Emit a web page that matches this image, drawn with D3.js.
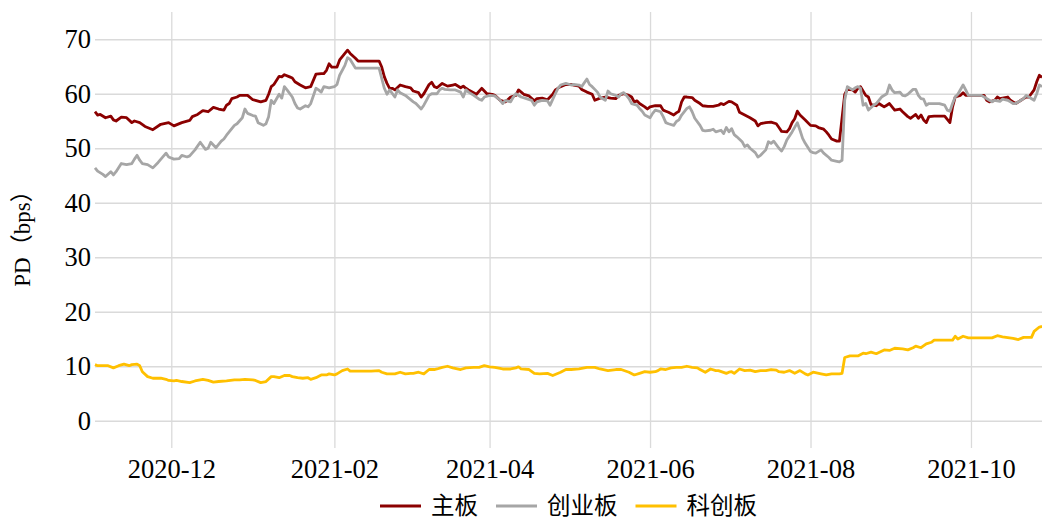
<!DOCTYPE html>
<html>
  <head>
    <meta charset="utf-8">
    <title>PD</title>
    <script src="https://d3js.org/d3.v7.min.js"></script>
    <style type="text/css">
      body {
        margin: 0;
        background: #fff;
      }
      text {
        font-family: "Liberation Serif", "Times New Roman", "Noto Sans CJK SC", serif;
        fill: #000;
      }
      .legend text {
        font-family: "Noto Sans CJK SC", "Liberation Serif", serif;
      }
    </style>
  </head>
  <body>
    <div id="chart"></div>

    <script>
      // series names shown in the legend
      var seriesNames = ["主板", "创业板", "科创板"];

      // 主板
      var mainBoard = [
        ["2020-11-02",56.7],["2020-11-03",56.1],["2020-11-04",56.2],["2020-11-06",55.6],["2020-11-08",55.9],
        ["2020-11-09",55.2],["2020-11-10",55.0],["2020-11-12",55.7],["2020-11-14",55.6],["2020-11-16",54.7],
        ["2020-11-17",55.0],["2020-11-19",54.7],["2020-11-21",54.0],["2020-11-24",53.4],["2020-11-27",54.4],
        ["2020-11-30",54.7],["2020-12-02",54.1],["2020-12-05",54.7],["2020-12-08",55.1],["2020-12-09",55.8],
        ["2020-12-11",56.2],["2020-12-13",56.9],["2020-12-15",56.7],["2020-12-17",57.5],["2020-12-19",57.2],
        ["2020-12-21",57.0],["2020-12-22",57.9],["2020-12-23",58.2],["2020-12-24",59.1],["2020-12-26",59.4],
        ["2020-12-27",59.7],["2020-12-30",59.7],["2021-01-01",58.9],["2021-01-02",58.8],["2021-01-04",58.5],
        ["2021-01-06",58.8],["2021-01-07",59.9],["2021-01-08",61.3],["2021-01-09",61.7],["2021-01-11",63.2],
        ["2021-01-12",63.1],["2021-01-13",63.5],["2021-01-15",63.1],["2021-01-16",62.9],["2021-01-17",62.2],
        ["2021-01-19",61.6],["2021-01-21",61.1],["2021-01-23",61.3],["2021-01-25",63.6],["2021-01-27",63.7],
        ["2021-01-28",63.7],["2021-01-29",64.3],["2021-01-30",65.5],["2021-01-31",64.9],["2021-02-02",64.9],
        ["2021-02-03",66.2],["2021-02-05",67.4],["2021-02-06",68.0],["2021-02-07",67.4],["2021-02-09",66.5],
        ["2021-02-10",66.0],["2021-02-12",66.0],["2021-02-15",66.0],["2021-02-18",66.0],["2021-02-19",64.9],
        ["2021-02-20",63.1],["2021-02-21",61.9],["2021-02-22",61.0],["2021-02-23",61.0],["2021-02-24",60.7],
        ["2021-02-26",61.6],["2021-02-28",61.3],["2021-03-02",61.1],["2021-03-03",60.5],["2021-03-05",60.2],
        ["2021-03-06",59.4],["2021-03-07",60.0],["2021-03-09",61.7],["2021-03-10",62.1],["2021-03-11",61.3],
        ["2021-03-12",61.1],["2021-03-14",61.9],["2021-03-16",61.4],["2021-03-18",61.6],["2021-03-19",61.7],
        ["2021-03-21",61.1],["2021-03-22",61.4],["2021-03-23",61.0],["2021-03-24",60.7],["2021-03-27",59.9],
        ["2021-03-29",61.0],["2021-03-31",60.0],["2021-04-02",59.9],["2021-04-03",59.7],["2021-04-05",58.8],
        ["2021-04-07",58.5],["2021-04-09",59.4],["2021-04-11",59.7],["2021-04-12",60.7],["2021-04-14",59.9],
        ["2021-04-16",59.6],["2021-04-18",58.7],["2021-04-19",59.1],["2021-04-21",59.2],["2021-04-23",58.9],
        ["2021-04-25",59.9],["2021-04-26",60.7],["2021-04-28",61.3],["2021-04-30",61.7],["2021-05-02",61.7],
        ["2021-05-03",61.6],["2021-05-05",61.4],["2021-05-06",60.8],["2021-05-08",60.3],["2021-05-10",59.9],
        ["2021-05-11",58.8],["2021-05-13",59.2],["2021-05-15",59.4],["2021-05-17",59.2],["2021-05-19",59.1],
        ["2021-05-20",59.7],["2021-05-22",60.0],["2021-05-24",59.7],["2021-05-25",59.4],["2021-05-26",58.5],
        ["2021-05-27",58.7],["2021-05-28",58.2],["2021-05-30",57.6],["2021-05-31",57.2],["2021-06-01",57.6],
        ["2021-06-03",57.8],["2021-06-05",57.8],["2021-06-06",57.0],["2021-06-07",56.8],["2021-06-08",56.6],
        ["2021-06-10",56.1],["2021-06-11",56.5],["2021-06-12",56.8],["2021-06-13",58.5],["2021-06-14",59.4],
        ["2021-06-15",59.4],["2021-06-17",59.3],["2021-06-18",58.8],["2021-06-20",58.2],["2021-06-21",57.8],
        ["2021-06-23",57.7],["2021-06-25",57.7],["2021-06-27",57.9],["2021-06-28",58.2],["2021-06-29",58.0],
        ["2021-07-01",58.6],["2021-07-02",58.5],["2021-07-04",57.9],["2021-07-05",56.6],["2021-07-07",56.1],
        ["2021-07-09",55.6],["2021-07-11",55.0],["2021-07-12",54.1],["2021-07-13",54.5],["2021-07-15",54.7],
        ["2021-07-17",54.8],["2021-07-19",54.5],["2021-07-20",53.8],["2021-07-21",53.1],["2021-07-23",53.0],
        ["2021-07-24",53.6],["2021-07-25",54.7],["2021-07-26",55.4],["2021-07-27",56.8],["2021-07-28",56.1],
        ["2021-07-30",55.2],["2021-08-01",54.2],["2021-08-03",54.1],["2021-08-04",53.8],["2021-08-06",53.5],
        ["2021-08-07",53.0],["2021-08-08",52.4],["2021-08-09",51.7],["2021-08-11",51.3],["2021-08-12",51.3],
        ["2021-08-14",59.9],["2021-08-15",60.8],["2021-08-17",60.7],["2021-08-18",60.3],["2021-08-19",61.0],
        ["2021-08-20",61.3],["2021-08-22",59.7],["2021-08-23",59.4],["2021-08-24",58.0],["2021-08-26",57.8],
        ["2021-08-27",58.2],["2021-08-28",57.9],["2021-08-29",57.6],["2021-08-30",57.9],["2021-08-31",58.2],
        ["2021-09-02",57.0],["2021-09-04",57.2],["2021-09-05",56.7],["2021-09-07",55.8],["2021-09-08",55.5],
        ["2021-09-10",56.2],["2021-09-11",55.5],["2021-09-12",56.1],["2021-09-13",55.2],["2021-09-14",54.7],
        ["2021-09-15",55.8],["2021-09-17",55.9],["2021-09-20",55.9],["2021-09-21",55.9],["2021-09-23",54.7],
        ["2021-09-24",57.6],["2021-09-25",59.4],["2021-09-27",59.7],["2021-09-28",60.2],["2021-09-29",59.7],
        ["2021-10-02",59.7],["2021-10-06",59.7],["2021-10-07",58.8],["2021-10-08",58.5],["2021-10-10",58.8],
        ["2021-10-11",59.4],["2021-10-12",59.1],["2021-10-13",59.2],["2021-10-15",59.4],["2021-10-16",58.8],
        ["2021-10-17",58.5],["2021-10-18",58.2],["2021-10-20",58.8],["2021-10-21",59.1],["2021-10-22",59.4],
        ["2021-10-23",59.4],["2021-10-25",60.7],["2021-10-26",62.2],["2021-10-27",63.4],["2021-10-28",63.0]
      ];

      // 创业板
      var growthBoard = [
        ["2020-11-02",46.4],["2020-11-03",45.8],["2020-11-05",45.2],["2020-11-06",44.8],["2020-11-08",45.7],
        ["2020-11-09",45.1],["2020-11-10",45.7],["2020-11-12",47.2],["2020-11-14",47.0],["2020-11-16",47.2],
        ["2020-11-17",48.0],["2020-11-18",48.7],["2020-11-19",47.8],["2020-11-20",47.2],["2020-11-22",47.0],
        ["2020-11-24",46.4],["2020-11-26",47.4],["2020-11-29",49.1],["2020-11-30",48.4],["2020-12-02",48.0],
        ["2020-12-04",48.1],["2020-12-05",48.7],["2020-12-07",48.4],["2020-12-08",48.6],["2020-12-10",49.7],
        ["2020-12-12",51.1],["2020-12-14",49.8],["2020-12-15",50.0],["2020-12-16",51.1],["2020-12-18",50.1],
        ["2020-12-20",51.3],["2020-12-21",51.7],["2020-12-22",52.4],["2020-12-23",53.0],["2020-12-25",54.2],
        ["2020-12-26",54.5],["2020-12-28",55.6],["2020-12-29",57.2],["2020-12-30",56.4],["2021-01-01",56.0],
        ["2021-01-02",55.9],["2021-01-03",54.7],["2021-01-05",54.2],["2021-01-06",54.5],["2021-01-07",55.8],
        ["2021-01-08",58.8],["2021-01-09",58.2],["2021-01-11",59.9],["2021-01-12",59.2],["2021-01-13",61.3],
        ["2021-01-14",60.7],["2021-01-16",59.4],["2021-01-17",58.2],["2021-01-18",57.4],["2021-01-19",57.2],
        ["2021-01-21",57.8],["2021-01-22",57.6],["2021-01-23",58.2],["2021-01-25",61.0],["2021-01-26",60.7],
        ["2021-01-27",60.3],["2021-01-28",61.3],["2021-01-30",61.1],["2021-02-01",61.3],["2021-02-02",61.7],
        ["2021-02-03",63.4],["2021-02-05",65.2],["2021-02-06",66.6],["2021-02-07",66.3],["2021-02-09",64.7],
        ["2021-02-11",64.7],["2021-02-15",64.7],["2021-02-18",64.7],["2021-02-19",62.8],["2021-02-20",61.0],
        ["2021-02-21",59.9],["2021-02-22",60.7],["2021-02-24",59.4],["2021-02-25",60.7],["2021-02-26",60.2],
        ["2021-02-28",59.7],["2021-03-03",58.5],["2021-03-04",58.2],["2021-03-06",57.2],["2021-03-07",57.9],
        ["2021-03-08",58.8],["2021-03-09",59.7],["2021-03-10",60.0],["2021-03-12",60.0],["2021-03-13",60.7],
        ["2021-03-14",61.0],["2021-03-15",60.8],["2021-03-17",60.7],["2021-03-19",60.7],["2021-03-21",60.3],
        ["2021-03-22",59.4],["2021-03-23",60.7],["2021-03-24",60.3],["2021-03-26",59.7],["2021-03-28",59.0],
        ["2021-03-29",58.8],["2021-03-30",59.4],["2021-04-01",59.7],["2021-04-03",59.6],["2021-04-05",58.8],
        ["2021-04-06",58.2],["2021-04-07",58.8],["2021-04-09",58.5],["2021-04-10",59.4],["2021-04-11",60.0],
        ["2021-04-13",59.4],["2021-04-15",59.1],["2021-04-17",58.8],["2021-04-18",57.9],["2021-04-19",58.5],
        ["2021-04-21",58.8],["2021-04-23",58.7],["2021-04-24",57.9],["2021-04-26",60.0],["2021-04-27",61.0],
        ["2021-04-28",61.6],["2021-04-30",61.9],["2021-05-02",61.6],["2021-05-03",61.7],["2021-05-05",61.6],
        ["2021-05-06",61.3],["2021-05-08",62.7],["2021-05-09",61.7],["2021-05-10",61.3],["2021-05-11",60.8],
        ["2021-05-12",60.3],["2021-05-13",59.4],["2021-05-15",58.8],["2021-05-16",60.5],["2021-05-17",60.0],
        ["2021-05-19",59.7],["2021-05-20",59.4],["2021-05-21",60.0],["2021-05-22",60.2],["2021-05-23",59.7],
        ["2021-05-24",59.1],["2021-05-25",58.2],["2021-05-27",57.9],["2021-05-28",57.3],["2021-05-29",56.8],
        ["2021-05-30",56.1],["2021-06-01",55.6],["2021-06-02",56.4],["2021-06-03",57.0],["2021-06-05",56.7],
        ["2021-06-06",55.8],["2021-06-07",54.7],["2021-06-08",54.5],["2021-06-10",54.2],["2021-06-11",54.9],
        ["2021-06-12",55.2],["2021-06-13",56.1],["2021-06-15",57.3],["2021-06-16",57.6],["2021-06-17",56.7],
        ["2021-06-18",55.5],["2021-06-20",54.2],["2021-06-21",53.3],["2021-06-22",53.2],["2021-06-24",53.3],
        ["2021-06-25",53.5],["2021-06-26",53.0],["2021-06-28",53.3],["2021-06-29",52.7],["2021-06-30",53.8],
        ["2021-07-01",53.0],["2021-07-02",53.6],["2021-07-03",52.5],["2021-07-04",52.1],["2021-07-06",51.2],
        ["2021-07-07",50.3],["2021-07-08",50.6],["2021-07-09",50.0],["2021-07-11",49.2],["2021-07-12",48.4],
        ["2021-07-13",48.7],["2021-07-15",49.7],["2021-07-16",51.2],["2021-07-17",50.9],["2021-07-18",51.3],
        ["2021-07-20",50.0],["2021-07-21",49.5],["2021-07-22",50.3],["2021-07-23",51.5],["2021-07-25",53.0],
        ["2021-07-27",54.7],["2021-07-28",53.3],["2021-07-29",51.8],["2021-07-30",50.9],["2021-08-01",49.4],
        ["2021-08-02",49.2],["2021-08-03",49.1],["2021-08-05",49.7],["2021-08-06",49.1],["2021-08-08",48.3],
        ["2021-08-09",47.8],["2021-08-11",47.6],["2021-08-12",47.5],["2021-08-13",47.8],["2021-08-14",58.8],
        ["2021-08-15",61.3],["2021-08-17",60.7],["2021-08-18",61.1],["2021-08-19",61.3],["2021-08-20",61.0],
        ["2021-08-21",57.9],["2021-08-22",58.2],["2021-08-23",57.0],["2021-08-25",57.9],["2021-08-26",58.2],
        ["2021-08-27",58.8],["2021-08-28",59.4],["2021-08-30",60.0],["2021-08-31",61.6],["2021-09-01",60.7],
        ["2021-09-02",60.2],["2021-09-04",60.3],["2021-09-05",59.7],["2021-09-06",59.6],["2021-09-07",59.9],
        ["2021-09-09",60.8],["2021-09-10",60.8],["2021-09-11",59.7],["2021-09-12",59.1],["2021-09-13",59.0],
        ["2021-09-14",57.9],["2021-09-15",58.2],["2021-09-17",58.2],["2021-09-19",58.2],["2021-09-21",57.9],
        ["2021-09-22",57.0],["2021-09-23",56.8],["2021-09-24",58.2],["2021-09-25",59.4],["2021-09-26",59.9],
        ["2021-09-28",61.6],["2021-09-29",60.7],["2021-09-30",59.7],["2021-10-05",59.7],["2021-10-06",59.4],
        ["2021-10-08",58.8],["2021-10-09",58.5],["2021-10-10",58.8],["2021-10-12",58.6],["2021-10-13",59.0],
        ["2021-10-15",58.8],["2021-10-16",58.5],["2021-10-17",58.2],["2021-10-18",58.2],["2021-10-20",58.8],
        ["2021-10-21",59.1],["2021-10-22",59.7],["2021-10-23",59.4],["2021-10-25",58.8],["2021-10-26",60.0],
        ["2021-10-27",61.6],["2021-10-28",61.3]
      ];

      // 科创板
      var starBoard = [
        ["2020-11-02",10.3],["2020-11-03",10.1],["2020-11-05",10.1],["2020-11-07",10.1],["2020-11-09",9.7],
        ["2020-11-11",10.1],["2020-11-13",10.4],["2020-11-15",10.1],["2020-11-16",10.3],["2020-11-18",10.4],
        ["2020-11-19",10.1],["2020-11-20",9.0],["2020-11-22",8.1],["2020-11-24",7.8],["2020-11-27",7.8],
        ["2020-11-29",7.6],["2020-11-30",7.4],["2020-12-02",7.3],["2020-12-03",7.4],["2020-12-05",7.2],
        ["2020-12-08",7.0],["2020-12-10",7.3],["2020-12-13",7.6],["2020-12-15",7.4],["2020-12-17",7.1],
        ["2020-12-19",7.2],["2020-12-22",7.3],["2020-12-25",7.5],["2020-12-27",7.5],["2020-12-29",7.6],
        ["2021-01-01",7.5],["2021-01-02",7.4],["2021-01-04",7.0],["2021-01-06",7.2],["2021-01-08",8.1],
        ["2021-01-09",8.1],["2021-01-11",7.9],["2021-01-13",8.3],["2021-01-15",8.3],["2021-01-16",8.1],
        ["2021-01-18",7.9],["2021-01-20",7.8],["2021-01-22",7.9],["2021-01-23",7.6],["2021-01-25",7.9],
        ["2021-01-27",8.4],["2021-01-29",8.4],["2021-01-30",8.6],["2021-02-01",8.4],["2021-02-02",8.6],
        ["2021-02-04",9.2],["2021-02-06",9.5],["2021-02-07",9.1],["2021-02-11",9.1],["2021-02-15",9.1],
        ["2021-02-18",9.2],["2021-02-19",8.9],["2021-02-21",8.6],["2021-02-24",8.6],["2021-02-26",8.9],
        ["2021-02-28",8.6],["2021-03-02",8.7],["2021-03-03",8.7],["2021-03-05",8.9],["2021-03-07",8.6],
        ["2021-03-09",9.4],["2021-03-11",9.4],["2021-03-12",9.5],["2021-03-14",9.8],["2021-03-16",10.0],
        ["2021-03-18",9.7],["2021-03-21",9.4],["2021-03-23",9.7],["2021-03-26",9.8],["2021-03-28",9.8],
        ["2021-03-30",10.1],["2021-04-01",9.9],["2021-04-03",9.8],["2021-04-06",9.5],["2021-04-09",9.5],
        ["2021-04-11",9.7],["2021-04-12",9.9],["2021-04-13",9.5],["2021-04-16",9.4],["2021-04-18",8.7],
        ["2021-04-20",8.6],["2021-04-23",8.7],["2021-04-25",8.3],["2021-04-28",8.9],["2021-04-30",9.4],
        ["2021-05-02",9.4],["2021-05-05",9.5],["2021-05-08",9.8],["2021-05-11",9.8],["2021-05-13",9.5],
        ["2021-05-16",9.2],["2021-05-19",9.4],["2021-05-21",9.4],["2021-05-24",8.9],["2021-05-26",8.4],
        ["2021-05-28",8.7],["2021-05-30",9.0],["2021-06-01",8.9],["2021-06-03",9.0],["2021-06-04",9.2],
        ["2021-06-05",9.5],["2021-06-07",9.4],["2021-06-09",9.7],["2021-06-11",9.8],["2021-06-13",9.8],
        ["2021-06-15",10.0],["2021-06-17",9.8],["2021-06-19",9.7],["2021-06-20",9.4],["2021-06-22",8.9],
        ["2021-06-24",9.5],["2021-06-26",9.2],["2021-06-27",9.2],["2021-06-30",8.7],["2021-07-01",8.9],
        ["2021-07-02",9.0],["2021-07-03",8.7],["2021-07-05",9.5],["2021-07-07",9.2],["2021-07-09",9.3],
        ["2021-07-11",9.0],["2021-07-13",9.2],["2021-07-15",9.2],["2021-07-17",9.4],["2021-07-19",9.3],
        ["2021-07-20",9.0],["2021-07-22",8.9],["2021-07-24",9.2],["2021-07-26",8.7],["2021-07-28",9.2],
        ["2021-07-30",8.6],["2021-07-31",8.4],["2021-08-02",8.9],["2021-08-05",8.6],["2021-08-07",8.4],
        ["2021-08-09",8.6],["2021-08-11",8.6],["2021-08-12",8.6],["2021-08-13",8.7],["2021-08-14",11.6],
        ["2021-08-16",11.9],["2021-08-19",11.9],["2021-08-21",12.4],["2021-08-22",12.3],["2021-08-24",12.6],
        ["2021-08-26",12.3],["2021-08-29",13.0],["2021-08-31",12.9],["2021-09-02",13.3],["2021-09-05",13.2],
        ["2021-09-07",13.0],["2021-09-09",13.4],["2021-09-10",13.7],["2021-09-12",13.4],["2021-09-14",14.1],
        ["2021-09-16",14.4],["2021-09-17",14.8],["2021-09-24",14.8],["2021-09-25",15.5],["2021-09-26",15.0],
        ["2021-09-28",15.5],["2021-09-30",15.2],["2021-10-05",15.2],["2021-10-09",15.2],["2021-10-11",15.6],
        ["2021-10-13",15.4],["2021-10-17",15.1],["2021-10-19",14.9],["2021-10-21",15.3],["2021-10-24",15.3],
        ["2021-10-25",16.4],["2021-10-27",17.2],["2021-10-28",17.3]
      ];

      // axis ticks
      var yTicks = [0, 10, 20, 30, 40, 50, 60, 70];
      var xTicks = ["2020-12-01", "2021-02-01", "2021-04-01", "2021-06-01", "2021-08-01", "2021-10-01"];

      var lineColors = ["#8b0000", "#a6a6a6", "#ffc000"];

      var width = 1042, height = 522;
      var plot = { left: 95, right: 1042, top: 12, bottom: 448 };

      var parseDate = d3.timeParse("%Y-%m-%d");
      var allSeries = [mainBoard, growthBoard, starBoard].map(function(s) {
        return s.map(function(d) { return { date: parseDate(d[0]), value: d[1] }; });
      });

      var svg = d3.select("#chart")
        .append("svg")
          .attr("width", width)
          .attr("height", height);

      var x = d3.scaleTime()
        .domain(d3.extent(d3.merge(allSeries), function(d) { return d.date; }))
        .range([plot.left, plot.right]);

      var y = d3.scaleLinear()
        .domain([-5, 75])
        .range([plot.bottom, plot.top]);

      // y gridlines + labels
      var yAxis = svg.append("g")
        .attr("transform", "translate(" + plot.left + ",0)")
        .call(d3.axisLeft(y)
          .tickValues(yTicks)
          .tickSize(-(plot.right - plot.left))
          .tickPadding(4));

      // x gridlines + labels
      var xAxis = svg.append("g")
        .attr("transform", "translate(0," + plot.bottom + ")")
        .call(d3.axisBottom(x)
          .tickValues(xTicks.map(parseDate))
          .tickFormat(d3.timeFormat("%Y-%m"))
          .tickSize(-(plot.bottom - plot.top))
          .tickPadding(11));

      [yAxis, xAxis].forEach(function(ax) {
        ax.select(".domain").remove();
        ax.selectAll(".tick line")
          .attr("stroke", "#dadada")
          .attr("stroke-width", 1.3);
        ax.selectAll(".tick text")
          .attr("fill", "#000")
          .style("font-size", "26.5px");
      });

      // the three lines
      var line = d3.line()
        .x(function(d) { return x(d.date); })
        .y(function(d) { return y(d.value); });

      svg.selectAll("path.series")
        .data(allSeries)
        .enter()
        .append("path")
          .attr("class", "series")
          .attr("d", line)
          .attr("fill", "none")
          .attr("stroke", function(d, i) { return lineColors[i]; })
          .attr("stroke-width", 2.8)
          .attr("stroke-linejoin", "round");

      // y axis title
      svg.append("text")
        .attr("transform", "translate(22," + ((plot.top + plot.bottom) / 2 + 3) + ") rotate(-90)")
        .attr("text-anchor", "middle")
        .attr("dominant-baseline", "central")
        .style("font-size", "23px")
        .text("PD（bps）");

      // legend
      var legend = svg.append("g").attr("class", "legend");
      var cursor = 0;
      seriesNames.forEach(function(name, i) {
        var item = legend.append("g").attr("transform", "translate(" + cursor + ",0)");
        item.append("line")
          .attr("x1", 0).attr("x2", 41)
          .attr("y1", 0).attr("y2", 0)
          .attr("stroke", lineColors[i])
          .attr("stroke-width", 3);
        var t = item.append("text")
          .attr("x", 51)
          .attr("y", 8)
          .style("font-size", "23.5px")
          .text(name);
        cursor += 51 + t.node().getComputedTextLength() + 18;
      });
      var legendWidth = cursor - 18;
      legend.attr("transform", "translate(" + ((plot.left + plot.right) / 2 - legendWidth / 2) + ",506)");
    </script>
  </body>
</html>
